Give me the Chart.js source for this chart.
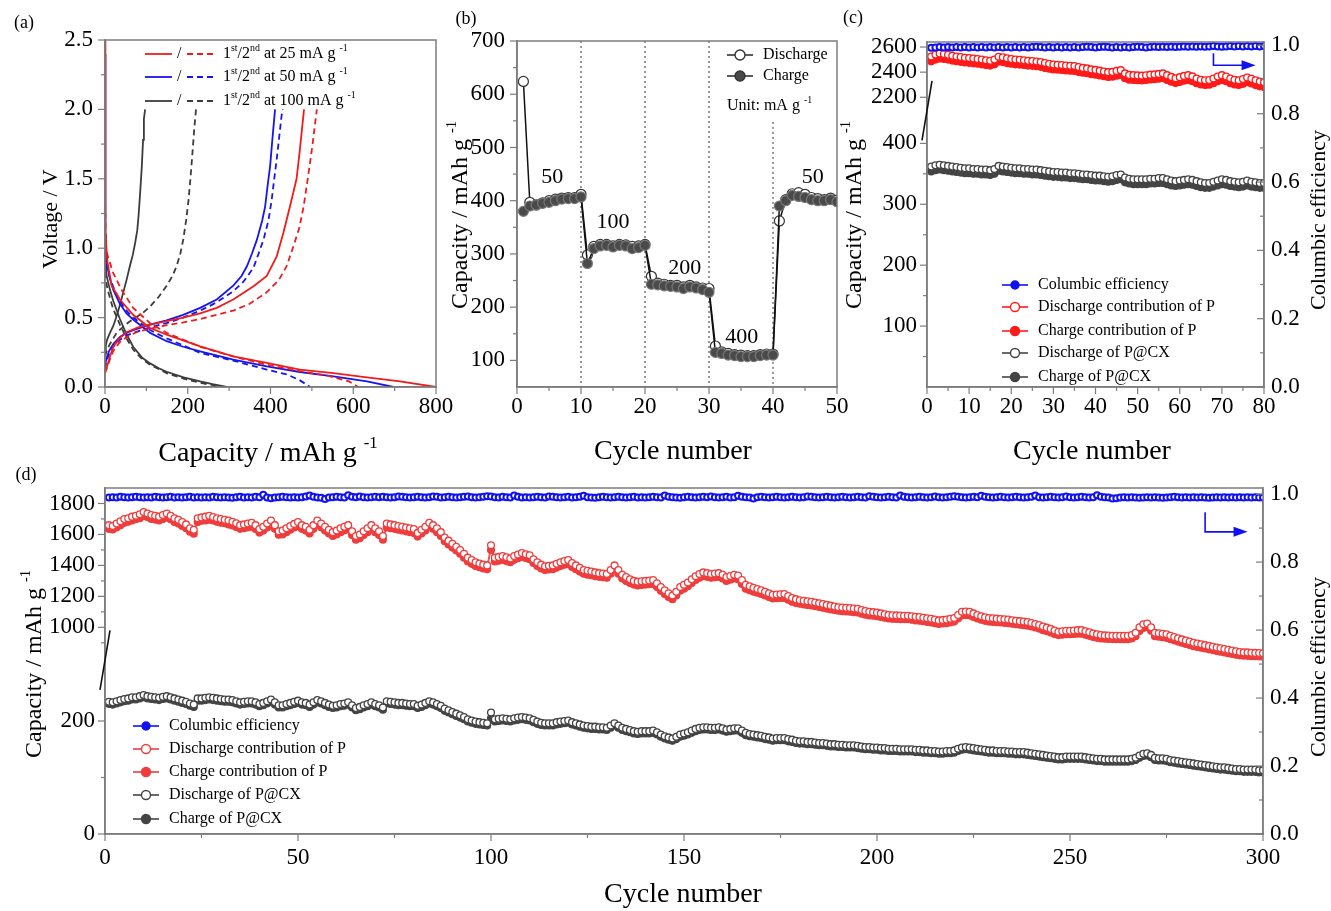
<!DOCTYPE html>
<html>
<head>
<meta charset="utf-8">
<script src="https://cdn.jsdelivr.net/npm/chart.js@4.4.1/dist/chart.umd.min.js"></script>
<style>
  body { margin:0; background:#fff; width:1331px; height:911px; position:relative; overflow:hidden;
         font-family:'Liberation Serif','Times New Roman',serif; color:#000; }
  canvas { position:absolute; }
  .lbl { position:absolute; white-space:nowrap; line-height:1; transform:translate(-50%,-50%); }
  .rot { transform:translate(-50%,-50%) rotate(-90deg); }
  sup { font-size:0.6em; vertical-align:0.75em; line-height:0; }
</style>
</head>
<body>
<canvas id="ca" width="470" height="425" style="left:0;top:0;width:470px;height:425px"></canvas>
<canvas id="cb" width="420" height="425" style="left:445px;top:0;width:420px;height:425px"></canvas>
<canvas id="cc" width="466" height="425" style="left:865px;top:0;width:466px;height:425px"></canvas>
<canvas id="cd" width="1331" height="420" style="left:0;top:460px;width:1331px;height:420px"></canvas>

<div class="lbl" style="left:24px;top:22px;font-size:18px">(a)</div>
<div class="lbl" style="left:466px;top:18px;font-size:18px">(b)</div>
<div class="lbl" style="left:853px;top:17px;font-size:18px">(c)</div>
<div class="lbl" style="left:26px;top:474px;font-size:18px">(d)</div>

<div class="lbl rot" style="left:50px;top:219px;font-size:22px">Voltage / V</div>
<div class="lbl" style="left:268px;top:452px;font-size:28px">Capacity / mAh g <sup>-1</sup></div>
<div class="lbl rot" style="left:459px;top:215px;font-size:24px">Capacity / mAh g <sup>-1</sup></div>
<div class="lbl" style="left:673px;top:450px;font-size:28px">Cycle number</div>
<div class="lbl rot" style="left:853px;top:215px;font-size:24px">Capacity / mAh g <sup>-1</sup></div>
<div class="lbl rot" style="left:1318px;top:220px;font-size:22px">Columbic efficiency</div>
<div class="lbl" style="left:1092px;top:450px;font-size:28px">Cycle number</div>
<div class="lbl rot" style="left:33px;top:664px;font-size:24px">Capacity / mAh g <sup>-1</sup></div>
<div class="lbl rot" style="left:1318px;top:667px;font-size:22px">Columbic efficiency</div>
<div class="lbl" style="left:683px;top:893px;font-size:28px">Cycle number</div>

<script>
// ---------------- (a) voltage profiles: capacity (mAh/g) / voltage (V) ----------------
const r1dCap = [0, 0, 2, 6, 16, 36, 68, 109, 149, 230, 310, 391, 471, 552, 633, 713, 800];
const r1dV   = [2.5, 1.4, 1.1, 0.9, 0.73, 0.63, 0.52, 0.425, 0.377, 0.293, 0.22, 0.173, 0.125, 0.10, 0.07, 0.04, 0.0];
const r2dCap = [0, 2, 8, 20, 40, 68, 109, 149, 230, 310, 391, 471, 540, 590, 612];
const r2dV   = [1.4, 1.0, 0.93, 0.82, 0.7, 0.57, 0.46, 0.39, 0.29, 0.22, 0.16, 0.115, 0.08, 0.04, 0.0];
const r1cCap = [0, 4, 12, 20, 35, 52, 80, 109, 149, 189, 230, 270, 310, 359, 391, 415, 431, 447, 463, 471, 481];
const r1cV   = [0.12, 0.14, 0.22, 0.29, 0.35, 0.395, 0.43, 0.45, 0.475, 0.50, 0.53, 0.57, 0.63, 0.726, 0.80, 0.94, 1.11, 1.30, 1.50, 1.71, 2.0];
const r2cCap = [0, 4, 12, 20, 35, 52, 80, 109, 149, 189, 230, 270, 310, 350, 390, 420, 439, 455, 470, 480, 490, 500, 512];
const r2cV   = [0.1, 0.13, 0.2, 0.26, 0.32, 0.36, 0.40, 0.42, 0.445, 0.465, 0.49, 0.52, 0.55, 0.6, 0.68, 0.77, 0.87, 1.01, 1.15, 1.30, 1.5, 1.71, 2.0];

const b1dCap = [0, 0, 2, 6, 12, 20, 36, 52, 68, 109, 149, 189, 230, 310, 391, 471, 552, 633, 697];
const b1dV   = [2.4, 1.3, 1.0, 0.86, 0.78, 0.70, 0.6, 0.53, 0.486, 0.39, 0.33, 0.29, 0.257, 0.197, 0.149, 0.108, 0.077, 0.04, 0.0];
const b2dCap = [0, 2, 8, 20, 36, 52, 68, 109, 149, 189, 230, 310, 391, 440, 470, 496];
const b2dV   = [1.1, 0.9, 0.82, 0.72, 0.62, 0.55, 0.5, 0.41, 0.35, 0.3, 0.245, 0.19, 0.125, 0.09, 0.05, 0.0];
const b1cCap = [0, 3, 10, 20, 36, 52, 68, 109, 149, 189, 230, 270, 310, 330, 343, 355, 367, 380, 387, 393, 399, 405, 411];
const b1cV   = [0.15, 0.2, 0.26, 0.31, 0.36, 0.39, 0.41, 0.45, 0.48, 0.52, 0.57, 0.63, 0.73, 0.8, 0.87, 0.96, 1.06, 1.2, 1.30, 1.45, 1.59, 1.8, 2.0];
const b2cCap = [0, 3, 10, 20, 36, 52, 68, 109, 149, 189, 230, 270, 310, 335, 359, 383, 395, 403, 409, 415, 421, 427, 430];
const b2cV   = [0.13, 0.18, 0.24, 0.29, 0.34, 0.37, 0.39, 0.43, 0.46, 0.5, 0.55, 0.61, 0.69, 0.76, 0.86, 1.06, 1.2, 1.35, 1.5, 1.64, 1.8, 1.96, 2.0];

const g1dCap = [0, 2, 4, 12, 20, 36, 52, 68, 90, 109, 130, 149, 190, 230, 260, 294];
const g1dV   = [1.1, 0.86, 0.80, 0.70, 0.62, 0.49, 0.38, 0.29, 0.21, 0.17, 0.135, 0.11, 0.07, 0.04, 0.02, 0.0];
const g2dCap = [0, 2, 5, 12, 20, 36, 52, 68, 90, 109, 149, 190, 230, 285];
const g2dV   = [0.9, 0.78, 0.72, 0.64, 0.56, 0.45, 0.35, 0.27, 0.2, 0.16, 0.1, 0.06, 0.03, 0.0];
const g1cCap = [0, 2, 5, 12, 20, 28, 36, 44, 52, 60, 67, 73, 78, 81, 85, 89, 92, 94, 97];
const g1cV   = [0.25, 0.3, 0.34, 0.39, 0.44, 0.51, 0.59, 0.68, 0.77, 0.87, 0.95, 1.04, 1.13, 1.23, 1.4, 1.59, 1.78, 1.93, 2.0];
const g2cCap = [0, 3, 10, 28, 50, 68, 90, 109, 130, 149, 163, 173, 182, 189, 196, 202, 207, 212, 216, 220];
const g2cV   = [0.22, 0.25, 0.3, 0.39, 0.45, 0.49, 0.53, 0.58, 0.65, 0.73, 0.8, 0.87, 0.96, 1.06, 1.2, 1.35, 1.52, 1.71, 1.87, 2.0];

const aRates = ['25', '50', '100'];
const aTicksX = [0, 200, 400, 600, 800];
const aTicksY = [0, 0.5, 1.0, 1.5, 2.0, 2.5];

// ---------------- (b) rate capability, cycles 1..50 ----------------
const bDischarge = [624, 397, 392, 396, 400, 403, 405, 406, 406, 412,
                    298, 314, 318, 318, 315, 318, 317, 314, 315, 318,
                    258, 245, 243, 241, 241, 238, 241, 238, 236, 235,
                    127, 116, 113, 111, 110, 109, 109, 111, 112, 112,
                    362, 402, 413, 415, 412, 406, 404, 402, 405, 401];
const bCharge    = [380, 390, 392, 395, 397, 400, 403, 404, 404, 407,
                    282, 310, 315, 316, 313, 316, 315, 310, 312, 316,
                    243, 242, 240, 239, 238, 235, 238, 236, 233, 228,
                    115, 113, 110, 109, 107, 107, 107, 109, 110, 110,
                    390, 400, 410, 408, 406, 402, 400, 400, 402, 398];
const bRateText = ['50', '100', '200', '400', '50'];
const bRateX    = [5.5, 15, 26.2, 35.1, 46.2];
const bRateY    = [445, 359, 274, 143, 445];
const bSwitch   = [10, 20, 30, 40];
const bTicksX = [0, 10, 20, 30, 40, 50];
const bTicksY = [100, 200, 300, 400, 500, 600, 700];

// ---------------- (c) cycling 80 cycles ----------------
const cCE = [0.993,0.994,0.995,0.994,0.995,0.994,0.995,0.994,0.995,0.994,
             0.995,0.994,0.995,0.994,0.995,0.994,0.995,0.994,0.995,0.994,
             0.995,0.994,0.995,0.994,0.995,0.996,0.995,0.994,0.995,0.994,
             0.995,0.994,0.995,0.994,0.995,0.994,0.995,0.996,0.995,0.994,
             0.995,0.996,0.995,0.994,0.995,0.994,0.995,0.994,0.995,0.996,
             0.995,0.994,0.995,0.996,0.995,0.996,0.995,0.996,0.995,0.996,
             0.997,0.996,0.997,0.996,0.997,0.996,0.997,0.998,0.997,0.996,
             0.997,0.998,0.997,0.998,0.997,0.998,0.997,0.998,0.997,0.998];
const cPDis = [2525,2540,2548,2545,2538,2530,2525,2520,2515,2512,
               2508,2505,2500,2495,2490,2500,2522,2518,2510,2505,
               2500,2498,2495,2490,2488,2485,2480,2472,2466,2460,
               2458,2456,2452,2450,2448,2440,2434,2430,2422,2418,
               2412,2405,2400,2402,2410,2416,2390,2378,2376,2374,
               2372,2375,2380,2382,2386,2390,2376,2362,2352,2360,
               2370,2376,2366,2350,2340,2336,2338,2350,2365,2376,
               2365,2350,2340,2336,2345,2357,2348,2335,2325,2320];
const cPChg = [2486,2500,2508,2505,2500,2492,2487,2482,2477,2474,
               2470,2467,2462,2457,2452,2462,2484,2480,2472,2467,
               2462,2460,2457,2452,2450,2447,2442,2434,2428,2422,
               2420,2418,2414,2412,2410,2402,2396,2392,2384,2380,
               2374,2367,2362,2364,2372,2378,2352,2340,2338,2336,
               2334,2337,2342,2344,2348,2352,2338,2324,2314,2322,
               2332,2338,2328,2312,2302,2298,2300,2312,2327,2338,
               2327,2312,2302,2298,2307,2319,2310,2297,2287,2282];
const cCxDis = [362,364,365,364,363,362,361,360,359,359,
                358,358,357,357,356,358,363,362,361,360,
                359,359,358,358,357,357,356,355,354,353,
                353,352,352,351,351,350,349,349,348,347,
                347,346,345,346,348,349,344,342,341,341,
                341,341,342,342,343,343,341,339,338,339,
                340,341,340,338,336,335,335,337,339,341,
                340,338,337,336,337,339,337,336,335,335];
const cCxChg = [354,356,357,356,355,354,353,352,351,351,
                350,350,349,349,348,350,355,354,353,352,
                351,351,350,350,349,349,348,347,346,345,
                345,344,344,343,343,342,341,341,340,339,
                339,338,337,338,340,341,336,334,333,333,
                333,333,334,334,335,335,333,331,330,331,
                332,333,332,330,328,327,327,329,331,333,
                332,330,329,328,329,331,329,328,327,327];
const cTicksX = [0, 10, 20, 30, 40, 50, 60, 70, 80];
const cTicksLo = [100, 200, 300, 400];
const cTicksHi = [2200, 2400, 2600];
const ceTicks = [0, 0.2, 0.4, 0.6, 0.8, 1.0];

// ---------------- (d) cycling 300 cycles ----------------
const dCE = [0.990,0.991,0.990,0.992,0.991,0.990,0.991,0.992,0.991,0.990,
             0.991,0.990,0.992,0.991,0.990,0.991,0.992,0.990,0.991,0.990,
             0.991,0.992,0.990,0.991,0.990,0.991,0.990,0.992,0.991,0.990,
             0.991,0.990,0.989,0.991,0.992,0.990,0.991,0.990,0.992,0.991,
             0.998,0.990,0.988,0.990,0.991,0.992,0.991,0.990,0.991,0.990,
             0.991,0.993,0.996,0.992,0.990,0.989,0.986,0.990,0.991,0.992,
             0.991,0.990,0.997,0.992,0.991,0.993,0.991,0.990,0.991,0.992,
             0.991,0.992,0.991,0.990,0.991,0.993,0.992,0.991,0.990,0.991,
             0.992,0.991,0.990,0.991,0.993,0.992,0.990,0.991,0.992,0.991,
             0.990,0.991,0.992,0.993,0.991,0.990,0.991,0.992,0.994,0.993,
             0.991,0.990,0.992,0.991,0.990,0.996,0.992,0.990,0.991,0.990,
             0.991,0.992,0.991,0.990,0.993,0.992,0.991,0.990,0.991,0.992,
             0.990,0.991,0.992,0.995,0.991,0.990,0.989,0.991,0.992,0.991,
             0.990,0.991,0.992,0.991,0.990,0.991,0.992,0.990,0.991,0.990,
             0.991,0.992,0.991,0.990,0.996,0.992,0.991,0.990,0.989,0.991,
             0.992,0.991,0.990,0.991,0.992,0.991,0.993,0.991,0.990,0.991,
             0.992,0.990,0.991,0.995,0.992,0.991,0.990,0.987,0.991,0.992,
             0.991,0.990,0.991,0.992,0.991,0.990,0.991,0.992,0.991,0.990,
             0.991,0.993,0.992,0.991,0.990,0.991,0.992,0.991,0.990,0.991,
             0.992,0.991,0.990,0.991,0.992,0.991,0.990,0.994,0.992,0.991,
             0.990,0.991,0.992,0.991,0.990,0.996,0.992,0.991,0.990,0.991,
             0.992,0.991,0.990,0.991,0.993,0.991,0.990,0.991,0.992,0.994,
             0.992,0.991,0.990,0.991,0.992,0.991,0.995,0.992,0.991,0.990,
             0.991,0.992,0.991,0.990,0.991,0.992,0.991,0.990,0.991,0.992,
             0.996,0.991,0.990,0.991,0.992,0.991,0.990,0.991,0.993,0.991,
             0.990,0.991,0.992,0.991,0.990,0.991,0.997,0.992,0.991,0.990,
             0.987,0.988,0.990,0.991,0.990,0.991,0.990,0.989,0.990,0.991,
             0.990,0.991,0.990,0.989,0.990,0.991,0.992,0.991,0.990,0.991,
             0.990,0.991,0.990,0.991,0.990,0.989,0.990,0.991,0.990,0.991,
             0.990,0.991,0.990,0.991,0.990,0.991,0.990,0.991,0.990,0.990];
const dPDis = [1660,1655,1670,1685,1700,1705,1715,1720,1730,1745,
               1735,1725,1720,1715,1725,1735,1720,1705,1695,1680,
               1665,1640,1630,1705,1710,1715,1720,1712,1705,1700,
               1695,1690,1682,1672,1660,1665,1670,1675,1660,1635,
               1650,1670,1690,1660,1620,1625,1640,1655,1668,1680,
               1660,1650,1630,1660,1690,1670,1650,1630,1615,1625,
               1640,1650,1660,1620,1590,1600,1620,1640,1660,1640,
               1620,1590,1670,1665,1660,1655,1650,1645,1640,1635,
               1610,1630,1650,1675,1660,1640,1615,1580,1560,1540,
               1520,1500,1475,1450,1435,1420,1412,1405,1400,1530,
               1450,1455,1460,1452,1445,1460,1470,1480,1472,1465,
               1440,1420,1405,1395,1398,1400,1410,1420,1428,1435,
               1415,1400,1385,1370,1365,1360,1355,1350,1348,1345,
               1370,1400,1370,1340,1325,1310,1300,1295,1298,1300,
               1302,1305,1285,1260,1240,1220,1205,1230,1260,1275,
               1290,1310,1330,1345,1355,1350,1345,1348,1350,1340,
               1325,1332,1340,1335,1305,1275,1265,1255,1248,1240,
               1230,1220,1210,1212,1214,1215,1202,1190,1182,1175,
               1172,1168,1165,1160,1155,1150,1145,1140,1135,1130,
               1128,1126,1125,1122,1120,1112,1105,1100,1098,1095,
               1090,1085,1080,1078,1077,1076,1075,1075,1072,1068,
               1066,1062,1058,1055,1050,1045,1048,1050,1055,1060,
               1080,1100,1102,1100,1090,1080,1072,1065,1060,1058,
               1056,1054,1052,1050,1046,1043,1040,1037,1034,1028,
               1022,1015,1005,998,990,980,972,975,978,978,
               980,982,982,975,968,960,955,950,948,947,
               946,945,945,945,945,950,965,1000,1020,1025,
               1000,965,962,958,955,945,938,930,922,915,
               908,900,895,890,885,880,875,870,865,860,
               855,850,845,840,838,838,836,835,834,832];
const dPChg = [1635,1632,1645,1660,1675,1682,1690,1698,1705,1718,
               1712,1700,1696,1690,1700,1710,1698,1680,1670,1655,
               1640,1618,1605,1680,1688,1690,1695,1690,1682,1676,
               1672,1665,1658,1648,1636,1640,1646,1650,1635,1612,
               1625,1645,1665,1636,1598,1600,1615,1630,1645,1655,
               1636,1625,1606,1636,1665,1646,1625,1606,1590,1600,
               1615,1626,1636,1596,1566,1575,1596,1615,1636,1615,
               1596,1566,1645,1640,1636,1630,1626,1620,1615,1610,
               1586,1606,1626,1650,1636,1615,1590,1556,1535,1515,
               1496,1476,1450,1426,1410,1396,1388,1380,1376,1500,
               1426,1430,1436,1428,1420,1436,1446,1455,1448,1440,
               1416,1396,1380,1370,1374,1376,1386,1396,1404,1410,
               1390,1376,1360,1346,1340,1336,1330,1326,1324,1320,
               1346,1376,1346,1316,1300,1286,1276,1270,1274,1276,
               1278,1280,1260,1236,1216,1196,1182,1206,1236,1250,
               1266,1286,1306,1320,1330,1326,1320,1324,1326,1316,
               1300,1308,1316,1310,1280,1250,1240,1230,1224,1216,
               1206,1196,1186,1188,1190,1190,1178,1166,1158,1152,
               1148,1144,1141,1136,1131,1126,1121,1116,1112,1107,
               1104,1102,1101,1098,1096,1088,1082,1077,1075,1072,
               1067,1062,1057,1055,1054,1053,1052,1052,1049,1045,
               1043,1039,1035,1032,1027,1022,1025,1027,1032,1037,
               1057,1077,1079,1077,1067,1057,1049,1042,1037,1035,
               1033,1031,1029,1027,1023,1020,1017,1014,1011,1005,
               999,992,982,975,967,957,950,952,955,955,
               957,959,959,952,945,938,932,928,926,925,
               924,923,923,923,923,928,942,976,996,1002,
               978,943,940,936,932,923,916,908,900,893,
               886,878,873,868,863,858,853,848,843,838,
               833,828,823,819,817,816,814,813,812,810];
const dCxDis = [234,233,235,237,239,240,242,242,244,246,
                244,243,242,241,243,244,242,240,238,236,
                234,231,229,240,240,241,242,241,240,239,
                238,238,237,235,233,234,235,235,233,230,
                232,235,238,233,228,228,230,232,234,236,
                233,232,229,233,237,235,232,229,227,228,
                230,231,233,228,223,225,228,230,233,230,
                228,224,235,234,233,232,232,231,230,230,
                227,229,232,235,233,230,227,222,219,216,
                213,210,207,203,201,199,198,197,196,215,
                203,204,205,204,203,205,206,207,206,205,
                202,199,197,196,196,196,198,199,200,201,
                198,196,194,192,191,190,190,189,189,188,
                192,196,192,188,186,184,182,181,182,182,
                182,183,180,176,173,171,169,172,176,178,
                180,183,186,188,189,189,188,188,189,187,
                185,186,187,187,183,179,177,176,175,174,
                172,171,169,170,170,170,168,167,165,164,
                164,163,163,162,161,161,160,159,159,158,
                158,157,157,157,156,155,154,154,153,153,
                152,152,151,151,151,150,150,150,150,149,
                149,148,148,147,147,146,146,147,147,148,
                151,153,154,153,152,151,150,149,148,148,
                147,147,147,146,146,145,145,145,144,143,
                142,141,140,139,138,137,136,136,137,137,
                137,137,137,136,135,134,133,133,132,132,
                132,132,132,132,132,133,135,139,142,143,
                140,135,134,134,133,131,130,129,128,127,
                126,125,124,123,122,121,120,119,118,118,
                117,116,115,115,114,114,114,114,113,113];
const dCxChg = [230,229,231,233,235,236,238,238,240,242,
                240,239,238,237,239,240,238,236,234,232,
                230,227,225,236,236,237,238,237,236,235,
                234,234,233,231,229,230,231,231,229,226,
                228,231,234,229,224,224,226,228,230,232,
                229,228,225,229,233,231,228,225,223,224,
                226,227,229,224,219,221,224,226,229,226,
                224,220,231,230,229,228,228,227,226,226,
                223,225,228,231,229,226,223,218,215,212,
                209,206,203,199,197,195,194,193,192,205,
                199,200,201,200,199,201,202,203,202,201,
                198,195,193,192,192,192,194,195,196,197,
                194,192,190,188,187,186,186,185,185,184,
                188,192,188,184,182,180,178,177,178,178,
                178,179,176,172,169,167,165,168,172,174,
                176,179,182,184,185,185,184,184,185,183,
                181,182,183,183,179,175,173,172,171,170,
                168,167,165,166,166,166,164,163,161,160,
                160,159,159,158,157,157,156,155,155,154,
                154,153,153,153,152,151,150,150,149,149,
                148,148,147,147,147,146,146,146,146,145,
                145,144,144,143,143,142,142,143,143,144,
                147,149,150,149,148,147,146,145,144,144,
                143,143,143,142,142,141,141,141,140,139,
                138,137,136,135,134,133,132,132,133,133,
                133,133,133,132,131,130,129,129,128,128,
                128,128,128,128,128,129,131,135,138,139,
                136,131,130,130,129,127,126,125,124,123,
                122,121,120,119,118,117,116,115,114,114,
                113,112,111,111,110,110,110,110,109,109];
const dTicksX = [0, 50, 100, 150, 200, 250, 300];
const dTicksLo = [0, 200];
const dTicksHi = [1000, 1200, 1400, 1600, 1800];

const legendNames = ['Columbic efficiency', 'Discharge contribution of P', 'Charge contribution of P',
                     'Discharge of P@CX', 'Charge of P@CX'];

// ---------------- styling ----------------
const SERIF = "'Liberation Serif', 'Times New Roman', serif";
const AXIS = '#7c7c7c';
const RED_A = '#f01c1c', BLUE_A = '#1515f0', GRAY_A = '#3c3c3c';
const RED_C = '#ff1a1a', RED_D = '#ef3d3d', BLUE = '#1010f5', DARK = '#444444';
const TICK_FONT = 23;

Chart.defaults.font.family = SERIF;
Chart.defaults.animation = false;

const pts = (xs, ys) => ys.map((y, i) => ({ x: xs[i], y }));
const cyc = ys => ys.map((y, i) => ({ x: i + 1, y }));

function mkAxis(o) {
  const ax = {
    type: 'linear', position: o.position, min: o.min, max: o.max,
    grid: { display: false, drawTicks: false },
    border: { display: true, color: AXIS, width: 1.5 },
    ticks: { color: '#000', font: { family: SERIF, size: TICK_FONT }, padding: o.pad, autoSkip: false, maxRotation: 0,
             callback: o.fmt || (v => String(v)) },
    afterBuildTicks: s => { s.ticks = o.ticks.map(v => ({ value: v })); },
    afterFit: s => { if (o.w) s.width = o.w; if (o.h) s.height = o.h; }
  };
  if (o.stack) { ax.stack = o.stack; ax.stackWeight = o.weight; }
  return ax;
}
const fix1 = v => v.toFixed(1);

// draws major+minor tick marks and the box frame
const tickMarks = {
  id: 'tickMarks',
  afterDraw(chart, args, opts) {
    const { ctx, chartArea: a } = chart;
    ctx.save();
    ctx.strokeStyle = AXIS; ctx.lineWidth = 1.2;
    const axes = opts.axes || {};
    for (const id of Object.keys(axes)) {
      const s = chart.scales[id];
      const c = axes[id];
      const marks = s.ticks.map(t => [t.value, 7]);
      if (c.minor) for (let v = c.minor[0]; v <= c.minor[2] + 1e-9; v += c.minor[1]) marks.push([v, 4]);
      const dirOut = c.inward ? -1 : 1;
      for (const [v, len] of marks) {
        const p = s.getPixelForValue(v);
        if (s.isHorizontal()) {
          if (p < a.left - 0.5 || p > a.right + 0.5) continue;
          ctx.beginPath(); ctx.moveTo(p, a.bottom); ctx.lineTo(p, a.bottom + dirOut * len); ctx.stroke();
        } else {
          if (p < s.top - 0.5 || p > s.bottom + 0.5) continue;
          const left = s.position === 'left';
          const x0 = left ? a.left : a.right;
          const d = (left ? -1 : 1) * dirOut;
          ctx.beginPath(); ctx.moveTo(x0, p); ctx.lineTo(x0 + d * len, p); ctx.stroke();
        }
      }
    }
    ctx.lineWidth = 1.5;
    ctx.strokeRect(a.left, a.top, a.width, a.height);
    ctx.restore();
  }
};

function richText(ctx, x, y, parts, size) {
  let cx = x;
  for (const [t, sup] of parts) {
    const fs = sup ? size * 0.62 : size;
    ctx.font = fs + 'px ' + SERIF;
    ctx.fillText(t, cx, sup ? y - size * 0.36 : y);
    cx += ctx.measureText(t).width;
  }
}

function marker(ctx, x, y, r, stroke, fill, lw) {
  ctx.beginPath(); ctx.arc(x, y, r, 0, Math.PI * 2);
  ctx.fillStyle = fill; ctx.fill();
  ctx.lineWidth = lw; ctx.strokeStyle = stroke; ctx.stroke();
}

// legend with line + marker + text rows
function lineLegend(ctx, x0, rows, items, size) {
  ctx.save();
  ctx.textBaseline = 'middle';
  items.forEach((it, i) => {
    const y = rows[i];
    ctx.strokeStyle = it.color; ctx.lineWidth = 1.6;
    ctx.beginPath(); ctx.moveTo(x0, y); ctx.lineTo(x0 + 26, y); ctx.stroke();
    marker(ctx, x0 + 13, y, it.r, it.color, it.fill, 1.4);
    ctx.fillStyle = '#000';
    ctx.font = size + 'px ' + SERIF;
    ctx.fillText(it.text, x0 + 36, y);
  });
  ctx.restore();
}

// ================= (a) =================
const lineDs = (xs, ys, color, dashed) => ({
  data: pts(xs, ys), borderColor: color, borderWidth: 1.8, pointRadius: 0,
  borderDash: dashed ? [6, 4] : [], tension: 0
});

const aColors = [RED_A, BLUE_A, GRAY_A];
new Chart(document.getElementById('ca'), {
  type: 'line',
  data: { datasets: [
    lineDs(r1dCap, r1dV, RED_A, false), lineDs(r1cCap, r1cV, RED_A, false),
    lineDs(r2dCap, r2dV, RED_A, true),  lineDs(r2cCap, r2cV, RED_A, true),
    lineDs(b1dCap, b1dV, BLUE_A, false), lineDs(b1cCap, b1cV, BLUE_A, false),
    lineDs(b2dCap, b2dV, BLUE_A, true),  lineDs(b2cCap, b2cV, BLUE_A, true),
    lineDs(g1dCap, g1dV, GRAY_A, false), lineDs(g1cCap, g1cV, GRAY_A, false),
    lineDs(g2dCap, g2dV, GRAY_A, true),  lineDs(g2cCap, g2cV, GRAY_A, true)
  ] },
  options: {
    responsive: false, devicePixelRatio: 1,
    layout: { padding: { top: 40, right: 34, left: 0, bottom: 0 } },
    scales: {
      x: mkAxis({ position: 'bottom', min: 0, max: 800, ticks: aTicksX, h: 38, pad: 6 }),
      y: mkAxis({ position: 'left', min: 0, max: 2.5, ticks: aTicksY, w: 105, pad: 12, fmt: fix1 })
    },
    plugins: {
      legend: { display: false }, tooltip: { enabled: false },
      tickMarks: { axes: { x: { minor: [100, 200, 700] }, y: { minor: [0.25, 0.5, 2.25] } } }
    }
  },
  plugins: [tickMarks, {
    id: 'legendA',
    afterDraw(chart) {
      const ctx = chart.ctx;
      ctx.save();
      ctx.textBaseline = 'middle';
      const rows = [54, 77, 101];
      aRates.forEach((rate, i) => {
        const y = rows[i];
        ctx.strokeStyle = aColors[i]; ctx.lineWidth = 1.8;
        ctx.setLineDash([]);
        ctx.beginPath(); ctx.moveTo(145, y); ctx.lineTo(172, y); ctx.stroke();
        ctx.setLineDash([6, 4]);
        ctx.beginPath(); ctx.moveTo(187, y); ctx.lineTo(214, y); ctx.stroke();
        ctx.setLineDash([]);
        ctx.fillStyle = '#000';
        ctx.font = '16px ' + SERIF;
        ctx.fillText('/', 177, y);
        richText(ctx, 223, y, [['1', 0], ['st', 1], ['/2', 0], ['nd', 1], [' at ' + rate + ' mA g ', 0], ['-1', 1]], 16);
      });
      ctx.restore();
    }
  }]
});

// ================= (b) =================
new Chart(document.getElementById('cb'), {
  type: 'line',
  data: { datasets: [
    { data: cyc(bCharge), borderColor: '#111', borderWidth: 1.5, pointRadius: 5,
      pointBackgroundColor: '#4a4a4a', pointBorderColor: '#777', pointBorderWidth: 1.2 },
    { data: cyc(bDischarge), borderColor: '#111', borderWidth: 1.5, pointRadius: 5,
      pointBackgroundColor: '#fff', pointBorderColor: '#333', pointBorderWidth: 1.2 }
  ] },
  options: {
    responsive: false, devicePixelRatio: 1,
    layout: { padding: { top: 41, right: 28, left: 0, bottom: 0 } },
    scales: {
      x: mkAxis({ position: 'bottom', min: 0, max: 50, ticks: bTicksX, h: 38, pad: 6 }),
      y: mkAxis({ position: 'left', min: 50, max: 700, ticks: bTicksY, w: 72, pad: 12 })
    },
    plugins: {
      legend: { display: false }, tooltip: { enabled: false },
      tickMarks: { axes: { x: { minor: [5, 10, 45] }, y: { minor: [150, 100, 650] } } }
    }
  },
  plugins: [tickMarks, {
    id: 'decorB',
    beforeDatasetsDraw(chart) {
      const { ctx, chartArea: a, scales: { x, y } } = chart;
      ctx.save();
      ctx.strokeStyle = '#333'; ctx.lineWidth = 1; ctx.setLineDash([2, 3]);
      bSwitch.forEach((c, i) => {
        const px = x.getPixelForValue(c);
        ctx.beginPath();
        ctx.moveTo(px, i === 3 ? y.getPixelForValue(548) : a.top);
        ctx.lineTo(px, a.bottom); ctx.stroke();
      });
      ctx.restore();
    },
    afterDraw(chart) {
      const { ctx, scales: { x, y } } = chart;
      ctx.save();
      ctx.fillStyle = '#000';
      ctx.textAlign = 'center'; ctx.textBaseline = 'middle';
      ctx.font = '22px ' + SERIF;
      bRateText.forEach((t, i) => ctx.fillText(t, x.getPixelForValue(bRateX[i]), y.getPixelForValue(bRateY[i])));
      ctx.textAlign = 'left';
      lineLegend(ctx, 282, [55, 76], [
        { color: '#333', fill: '#fff', r: 5, text: 'Discharge' },
        { color: '#333', fill: '#4a4a4a', r: 5, text: 'Charge' }
      ], 16);
      ctx.fillStyle = '#000';
      richText(ctx, 282, 106, [['Unit: mA g ', 0], ['-1', 1]], 16);
      ctx.restore();
    }
  }]
});

// ================= shared for (c) and (d) =================
function cycleDatasets(ce, pDis, pChg, cxDis, cxChg, red) {
  const base = { borderWidth: 1, pointBorderWidth: 1.3, tension: 0 };
  return [
    Object.assign({}, base, { data: cyc(ce), yAxisID: 'y2', borderColor: BLUE, pointRadius: 3,
      pointBackgroundColor: '#fff', pointBorderColor: BLUE, pointBorderWidth: 2 }),
    Object.assign({}, base, { data: cyc(pDis), yAxisID: 'yHi', borderColor: red, pointRadius: 3.4,
      pointBackgroundColor: '#fff', pointBorderColor: red }),
    Object.assign({}, base, { data: cyc(pChg), yAxisID: 'yHi', borderColor: red, pointRadius: 3.4,
      pointBackgroundColor: red, pointBorderColor: red }),
    Object.assign({}, base, { data: cyc(cxDis), yAxisID: 'yLo', borderColor: DARK, pointRadius: 3.4,
      pointBackgroundColor: '#fff', pointBorderColor: DARK }),
    Object.assign({}, base, { data: cyc(cxChg), yAxisID: 'yLo', borderColor: DARK, pointRadius: 3.4,
      pointBackgroundColor: DARK, pointBorderColor: DARK })
  ];
}

function cycleLegend(red) {
  return [
    { color: BLUE, fill: BLUE, r: 4, text: legendNames[0] },
    { color: red, fill: '#fff', r: 4.5, text: legendNames[1] },
    { color: red, fill: red, r: 4.5, text: legendNames[2] },
    { color: DARK, fill: '#fff', r: 4.5, text: legendNames[3] },
    { color: DARK, fill: DARK, r: 4.5, text: legendNames[4] }
  ];
}

function decorCycle(lx, rows, red, slash, arrow) {
  return {
    id: 'decorCycle',
    afterDraw(chart) {
      const { ctx, chartArea: a, scales } = chart;
      ctx.save();
      // axis break slash
      ctx.strokeStyle = '#111'; ctx.lineWidth = 1.6;
      ctx.beginPath();
      ctx.moveTo(a.left - 5, scales.yLo.getPixelForValue(slash[0]));
      ctx.lineTo(a.left + 5, scales.yHi.getPixelForValue(slash[1]));
      ctx.stroke();
      // arrow toward the right axis
      const x0 = scales.x.getPixelForValue(arrow[0]);
      const x1 = scales.x.getPixelForValue(arrow[1]);
      const y0 = scales.y2.getPixelForValue(arrow[2]);
      const y1 = scales.y2.getPixelForValue(arrow[3]);
      ctx.strokeStyle = BLUE; ctx.fillStyle = BLUE; ctx.lineWidth = 1.6;
      ctx.beginPath(); ctx.moveTo(x0, y0); ctx.lineTo(x0, y1); ctx.lineTo(x1 - 12, y1); ctx.stroke();
      ctx.beginPath(); ctx.moveTo(x1, y1); ctx.lineTo(x1 - 14, y1 - 5); ctx.lineTo(x1 - 14, y1 + 5); ctx.closePath(); ctx.fill();
      lineLegend(ctx, lx, rows, cycleLegend(red), 16);
      ctx.restore();
    }
  };
}

// ================= (c) =================
new Chart(document.getElementById('cc'), {
  type: 'line',
  data: { datasets: cycleDatasets(cCE, cPDis, cPChg, cCxDis, cCxChg, RED_C) },
  options: {
    responsive: false, devicePixelRatio: 1,
    layout: { padding: { top: 42, right: 0, left: 0, bottom: 0 } },
    scales: {
      x: mkAxis({ position: 'bottom', min: 0, max: 80, ticks: cTicksX, h: 38, pad: 6 }),
      yLo: mkAxis({ position: 'left', min: 0, max: 440, ticks: cTicksLo, w: 62, pad: 10, stack: 'cap', weight: 268 }),
      yHi: mkAxis({ position: 'left', min: 2027, max: 2640, ticks: cTicksHi, w: 62, pad: 10, stack: 'cap', weight: 77 }),
      y2: mkAxis({ position: 'right', min: 0, max: 1.01, ticks: ceTicks, w: 67, pad: 7, fmt: fix1 })
    },
    plugins: {
      legend: { display: false }, tooltip: { enabled: false },
      tickMarks: { axes: {
        x: { minor: [5, 10, 75] }, yLo: { minor: [50, 100, 350] }, yHi: {},
        y2: { minor: [0.1, 0.2, 0.9], inward: true }
      } }
    }
  },
  plugins: [tickMarks, decorCycle(137, [285, 307, 331, 353, 377], RED_C, [405, 2330], [68, 78, 0.977, 0.942])]
});

// ================= (d) =================
new Chart(document.getElementById('cd'), {
  type: 'line',
  data: { datasets: cycleDatasets(dCE, dPDis, dPChg, dCxDis, dCxChg, RED_D) },
  options: {
    responsive: false, devicePixelRatio: 1,
    layout: { padding: { top: 28, right: 0, left: 0, bottom: 0 } },
    scales: {
      x: mkAxis({ position: 'bottom', min: 0, max: 300, ticks: dTicksX, h: 46, pad: 10 }),
      yLo: mkAxis({ position: 'left', min: 0, max: 300, ticks: dTicksLo, w: 105, pad: 10, stack: 'cap', weight: 169.5 }),
      yHi: mkAxis({ position: 'left', min: 760, max: 1900, ticks: dTicksHi, w: 105, pad: 10, stack: 'cap', weight: 176.5 }),
      y2: mkAxis({ position: 'right', min: 0, max: 1.018, ticks: ceTicks, w: 68, pad: 7, fmt: fix1 })
    },
    plugins: {
      legend: { display: false }, tooltip: { enabled: false },
      tickMarks: { axes: {
        x: { minor: [25, 50, 275] }, yLo: { minor: [100, 200, 100] }, yHi: { minor: [900, 200, 1700] },
        y2: { minor: [0.1, 0.2, 0.9], inward: true }
      } }
    }
  },
  plugins: [tickMarks, decorCycle(133, [266, 289, 312, 335, 359], RED_D, [255, 980], [285, 296, 0.947, 0.889])]
});
</script>
</body>
</html>
